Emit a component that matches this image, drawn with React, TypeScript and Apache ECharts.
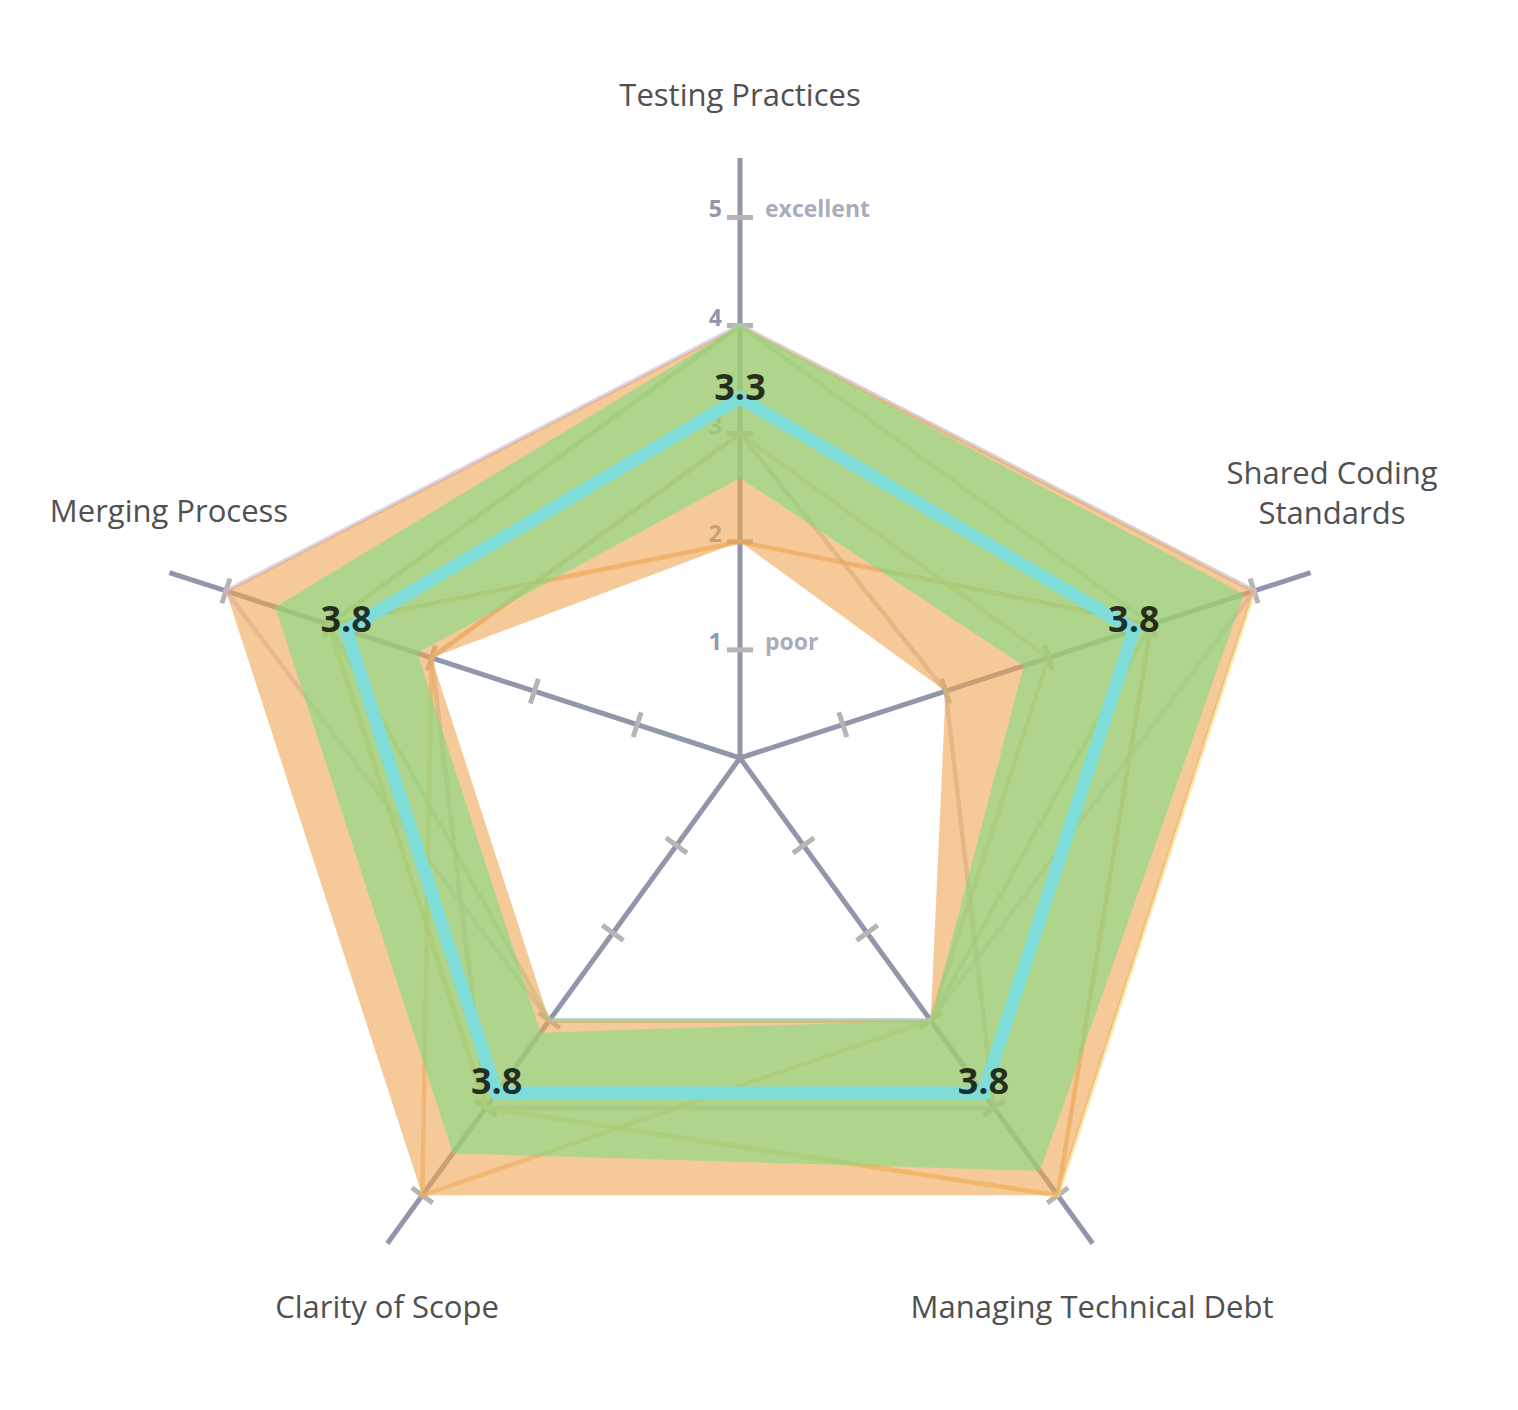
import React, { useEffect, useRef } from 'react';
import * as echarts from 'echarts';

// ---- data ----
const categories = ['Testing Practices', 'Shared Coding Standards', 'Managing Technical Debt', 'Clarity of Scope', 'Merging Process'];
const categoryLabels = ['Testing Practices', 'Shared Coding\nStandards', 'Managing Technical Debt', 'Clarity of Scope', 'Merging Process'];
const scaleTicks = [1, 2, 3, 4, 5];
const scaleWords = ['poor', 'excellent'];
const scaleWordValues = [1, 5];

// individual responses (order: Testing, Shared, Debt, Clarity, Merging)
const response1 = [2, 4, 5, 4, 4];
const response2 = [3, 2, 4, 4, 3];
const response3 = [4, 5, 5, 4, 4];
const response4 = [3, 3, 3, 5, 3];
const response5 = [4, 5, 3, 3, 5];
const response6 = [4, 4, 3, 3, 4];
const responses = [response1, response2, response3, response4, response5, response6];

const rangeMin = [2, 2, 3, 3, 3];
const rangeMax = [4, 5, 5, 5, 5];
const spreadLow = [2.59, 2.76, 3.0, 3.14, 3.14];
const spreadHigh = [4.0, 4.9, 4.72, 4.52, 4.52];
const meanValues = [3.33, 3.83, 3.83, 3.83, 3.83];

// ---- styles / layout ----
const responseColors = ['#ee9a4e', '#bdb0a6', '#f3dc86', '#f0b06a', '#c6b9e6', '#8fd3a0'];
const labelLayout = [[740, 94], [1332, 492], [1092, 1306], [387, 1306], [169, 510]];
const AXIS_COLOR = '#9196aa';

function ringRenderer(low: number[], high: number[], fill: string) {
  return (params: any, api: any) => {
    const outer = high.map((v, i) => api.coord([v, i]));
    const inner = low.map((v, i) => api.coord([v, i]));
    const innerRev = [inner[0], inner[4], inner[3], inner[2], inner[1], inner[0]];
    const pts = [...outer, outer[0], ...innerRev];
    return { type: 'polygon', shape: { points: pts }, style: { fill, stroke: 'none' } };
  };
}

function loopRenderer(getVals: (idx: number) => number[], getColor: (idx: number) => string, width: number, opacity: number) {
  return (params: any, api: any) => {
    const vals = getVals(params.dataIndex);
    const pts = vals.map((v, i) => api.coord([v, i]));
    return {
      type: 'polygon',
      shape: { points: pts },
      style: { fill: 'none', stroke: getColor(params.dataIndex), lineWidth: width, lineJoin: 'miter', opacity },
    };
  };
}

export default function App() {
  const ref = useRef<HTMLDivElement>(null);
  useEffect(() => {
    if (!ref.current) return;
    const chart = echarts.init(ref.current, null, { renderer: 'svg' });
    const tickData: number[][] = [];
    categories.forEach((_, i) => scaleTicks.forEach((v) => tickData.push([v, i])));

    chart.setOption({
      animation: false,
      textStyle: { fontFamily: 'Open Sans' },
      polar: { center: [740, 758], radius: 600 },
      angleAxis: {
        type: 'category',
        data: categories,
        startAngle: 90,
        clockwise: true,
        boundaryGap: false,
        axisLine: { show: false },
        axisTick: { show: false },
        axisLabel: { show: false },
        splitArea: { show: false },
        splitLine: { show: true, lineStyle: { color: AXIS_COLOR, width: 5 } },
      },
      radiusAxis: {
        type: 'value',
        min: 0,
        max: 5.55,
        interval: 1,
        axisLine: { show: false },
        axisTick: { show: false },
        splitLine: { show: false },
        axisLabel: {
          formatter: (v: number) => (scaleTicks.indexOf(v) >= 0 ? String(v) : ''),
          color: AXIS_COLOR,
          fontSize: 23,
          fontWeight: 'bold',
          fontFamily: 'Open Sans',
          margin: 18,
          verticalAlign: 'bottom',
          lineHeight: 18,
        },
      },
      graphic: categoryLabels.map((t, i) => ({
        type: 'text',
        x: labelLayout[i][0],
        y: labelLayout[i][1],
        silent: true,
        style: {
          text: t,
          fill: '#505050',
          fontSize: 31,
          fontFamily: 'Open Sans',
          align: 'center',
          verticalAlign: 'middle',
          lineHeight: 40,
        },
      })),
      series: [
        {
          type: 'custom',
          coordinateSystem: 'polar',
          silent: true,
          data: tickData,
          renderItem: (params: any, api: any) => {
            const v = api.value(0);
            const i = api.value(1);
            const p = api.coord([v, i]);
            const c = api.coord([0, i]);
            const dx = p[0] - c[0];
            const dy = p[1] - c[1];
            const len = Math.hypot(dx, dy) || 1;
            const nx = (-dy / len) * 13;
            const ny = (dx / len) * 13;
            return {
              type: 'line',
              shape: { x1: p[0] - nx, y1: p[1] - ny, x2: p[0] + nx, y2: p[1] + ny },
              style: { stroke: '#b5b5b5', lineWidth: 5 },
            };
          },
        },
        {
          type: 'custom',
          coordinateSystem: 'polar',
          silent: true,
          data: responses.map((r) => [r[0], 0]),
          renderItem: loopRenderer((k) => responses[k], (k) => responseColors[k], 4.5, 0.6),
        },
        {
          type: 'custom',
          coordinateSystem: 'polar',
          silent: true,
          data: [[rangeMax[0], 0]],
          renderItem: ringRenderer(rangeMin, rangeMax, 'rgba(238,167,83,0.6)'),
        },
        {
          type: 'custom',
          coordinateSystem: 'polar',
          silent: true,
          data: [[spreadHigh[0], 0]],
          renderItem: ringRenderer(spreadLow, spreadHigh, 'rgba(127,220,130,0.6)'),
        },
        {
          type: 'custom',
          coordinateSystem: 'polar',
          silent: true,
          data: [[meanValues[0], 0]],
          renderItem: loopRenderer(() => meanValues, () => '#7edcd9', 13, 1),
        },
        {
          type: 'scatter',
          coordinateSystem: 'polar',
          silent: true,
          symbolSize: 0,
          data: meanValues.map((v, i) => [v, i]),
          label: {
            show: true,
            position: 'inside',
            offset: [0, -12],
            formatter: (p: any) => Number(p.value[0]).toFixed(1),
            fontSize: 36,
            fontWeight: 'bold',
            fontFamily: 'Open Sans',
            color: '#000',
          },
        },
        {
          type: 'scatter',
          coordinateSystem: 'polar',
          silent: true,
          symbolSize: 0,
          data: scaleWordValues.map((v) => [v, 0]),
          label: {
            show: true,
            position: 'right',
            distance: 25,
            offset: [0, -9],
            formatter: (p: any) => scaleWords[p.dataIndex],
            fontSize: 23,
            fontWeight: 'bold',
            fontFamily: 'Open Sans',
            color: AXIS_COLOR,
          },
        },
      ],
    });
    return () => chart.dispose();
  }, []);

  return (
    <div
      ref={ref}
      style={{ position: 'fixed', left: 0, top: 0, width: 1518, height: 1410, background: '#fff' }}
    />
  );
}
